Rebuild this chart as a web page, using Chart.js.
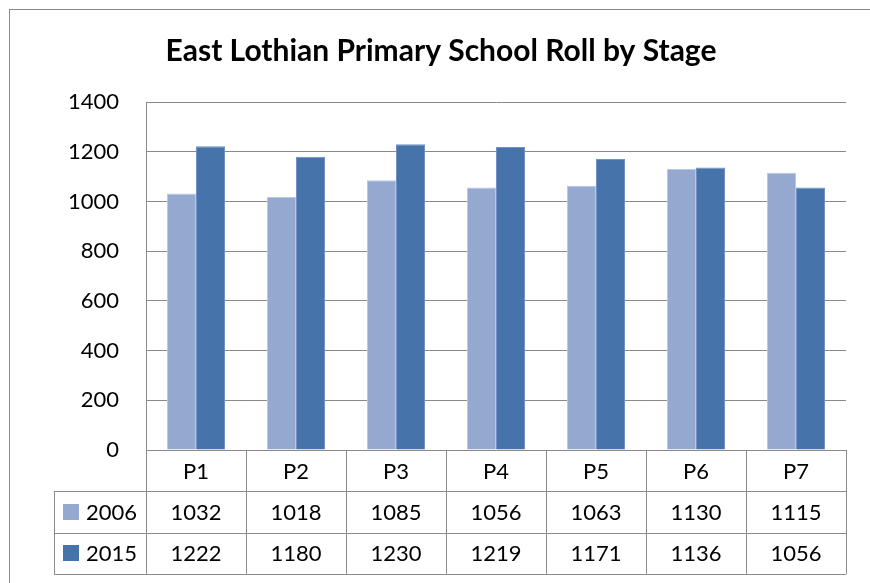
<!DOCTYPE html>
<html>
<head>
<meta charset="utf-8">
<script src="https://cdn.jsdelivr.net/npm/chart.js@4.4.1/dist/chart.umd.min.js"></script>
<style>
  html, body { margin: 0; padding: 0; background: #fff; }
  #wrap { width: 870px; height: 583px; position: relative; }
</style>
</head>
<body>
<div id="wrap"><canvas id="chart" width="870" height="583"></canvas></div>
<script>
const stages = ["P1", "P2", "P3", "P4", "P5", "P6", "P7"];
const seriesNames = ["2006", "2015"];
const roll2006 = [1032, 1018, 1085, 1056, 1063, 1130, 1115];
const roll2015 = [1222, 1180, 1230, 1219, 1171, 1136, 1056];
const yTicks = [0, 200, 400, 600, 800, 1000, 1200, 1400];

const FONT = "Lato, 'Liberation Sans', sans-serif";
const lightBlue = "rgb(149, 169, 208)";
const darkBlue = "rgb(70, 116, 170)";
const lineGray = "#8a8a8a";

// Excel-like data table under the plot + outer frame
const dataTablePlugin = {
  id: "dataTable",
  beforeDraw(chart) {
    const c = chart.ctx;
    c.save();
    c.strokeStyle = lineGray;
    c.lineWidth = 1;
    c.strokeRect(9.5, 9.5, 900, 620);
    c.restore();
  },
  afterDraw(chart) {
    const c = chart.ctx;
    const x = chart.scales.x;
    const area = chart.chartArea;
    const rowH = 41.3;
    const top = area.bottom;
    const legendLeft = 54;
    const half = (x.getPixelForValue(1) - x.getPixelForValue(0)) / 2;
    const rows = [roll2006, roll2015];
    const colors = [lightBlue, darkBlue];

    c.save();
    c.strokeStyle = lineGray;
    c.lineWidth = 1;
    const px = v => Math.round(v) + 0.5;

    // horizontal lines
    c.beginPath();
    for (let r = 1; r <= 3; r++) {
      const y = px(top + r * rowH);
      c.moveTo(legendLeft, y);
      c.lineTo(area.right, y);
    }
    // vertical lines
    stages.forEach((s, i) => {
      const xl = px(x.getPixelForValue(i) - half);
      c.moveTo(xl, top);
      c.lineTo(xl, top + 3 * rowH);
    });
    c.moveTo(px(area.right), top);
    c.lineTo(px(area.right), top + 3 * rowH);
    c.moveTo(px(legendLeft), top + rowH);
    c.lineTo(px(legendLeft), top + 3 * rowH);
    c.stroke();

    c.fillStyle = "#000";
    c.font = "22px " + FONT;
    c.textBaseline = "middle";
    c.textAlign = "center";
    stages.forEach((s, i) => {
      const cx = x.getPixelForValue(i);
      c.fillText(s, cx, top + rowH / 2 + 1);
      rows.forEach((vals, r) => {
        c.fillText(String(vals[i]), cx, top + (r + 1.5) * rowH + 1);
      });
    });

    // legend keys
    c.textAlign = "left";
    seriesNames.forEach((name, r) => {
      const cy = top + (r + 1.5) * rowH;
      c.fillStyle = colors[r];
      c.fillRect(63, Math.round(cy - 8), 16, 16);
      c.fillStyle = "#000";
      c.fillText(name, 86, cy + 1);
    });
    c.restore();
  }
};

new Chart(document.getElementById("chart"), {
  type: "bar",
  data: {
    labels: stages,
    datasets: [
      { label: seriesNames[0], data: roll2006, backgroundColor: lightBlue, borderColor: "rgb(185, 200, 228)", borderWidth: 1 },
      { label: seriesNames[1], data: roll2015, backgroundColor: darkBlue, borderColor: "rgb(110, 146, 196)", borderWidth: 1 }
    ]
  },
  options: {
    responsive: false,
    animation: false,
    layout: { padding: { left: 36, right: 24, top: 10, bottom: 133 } },
    datasets: { bar: { categoryPercentage: 0.58, barPercentage: 1.0 } },
    plugins: {
      legend: { display: false },
      tooltip: { enabled: false },
      title: {
        display: true,
        text: "East Lothian Primary School Roll by Stage",
        color: "#000",
        font: { family: FONT, size: 30, weight: "bold", lineHeight: 1.2 },
        padding: { top: 23, bottom: 33 }
      }
    },
    scales: {
      x: { display: false },
      y: {
        min: 0,
        max: 1400,
        afterBuildTicks: s => { s.ticks = yTicks.map(v => ({ value: v })); },
        afterFit: s => { s.width = 110; },
        ticks: { color: "#000", font: { family: FONT, size: 22 }, padding: 27, callback: v => String(v) },
        grid: { color: lineGray, drawTicks: false, lineWidth: 1 },
        border: { color: lineGray, width: 1 }
      }
    }
  },
  plugins: [dataTablePlugin]
});
</script>
</body>
</html>
